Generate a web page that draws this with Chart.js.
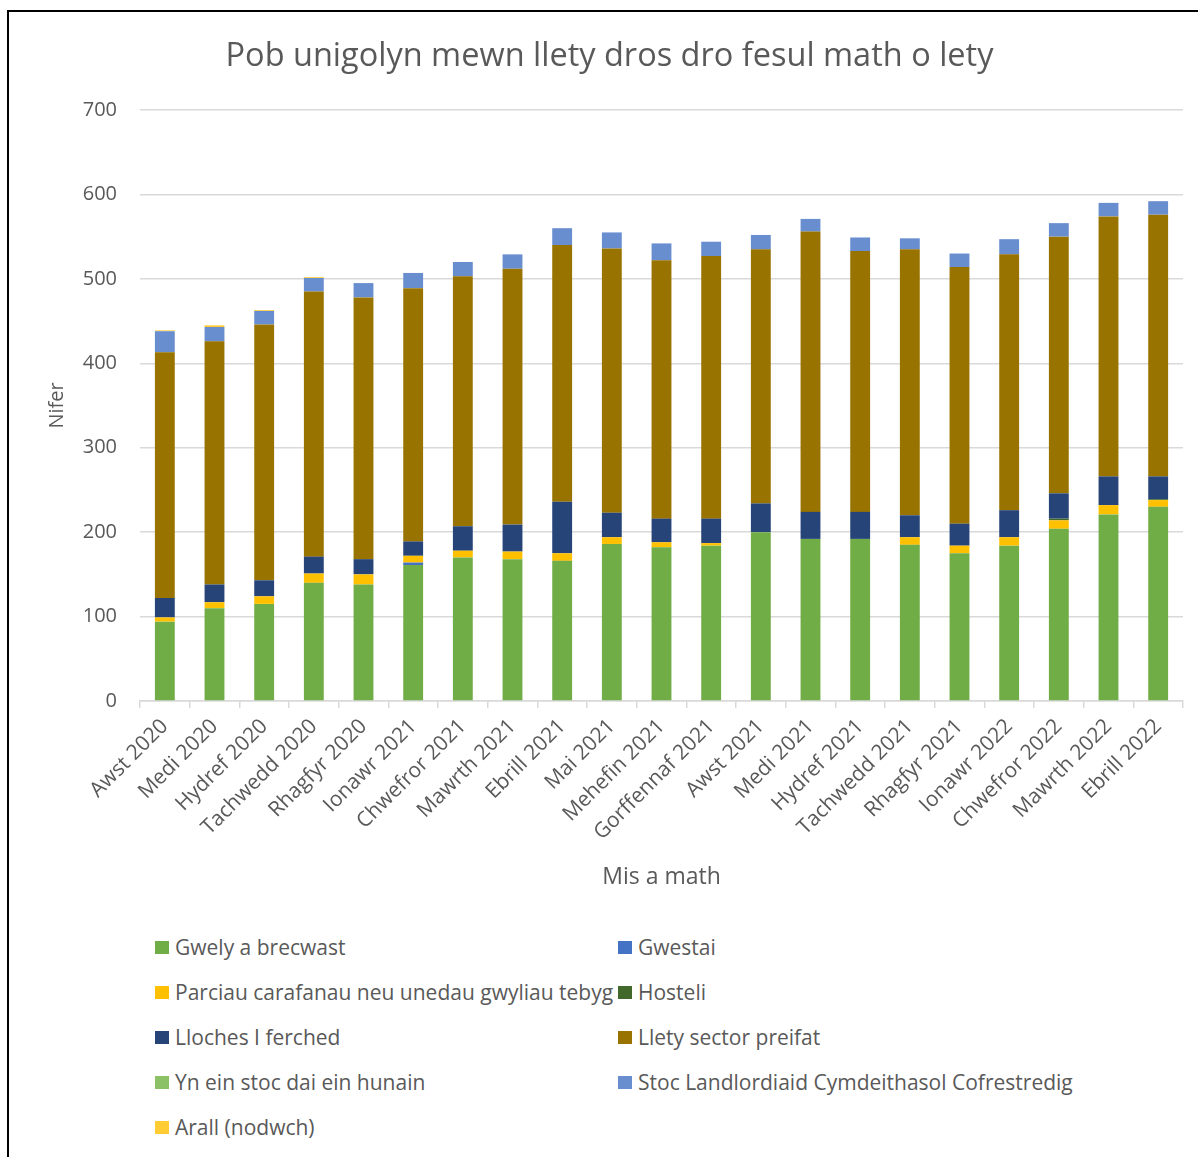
<!DOCTYPE html>
<html lang="cy">
<head>
    <meta charset="UTF-8">
    <title>Pob unigolyn mewn llety dros dro fesul math o lety</title>
    <style>
        html, body { margin: 0; padding: 0; background: #fff; overflow: hidden; }
        body { width: 1198px; height: 1157px; position: relative; font-family: "Open Sans", sans-serif; }
        .frame { position: absolute; left: 7px; top: 10px; right: -10px; bottom: -10px; border-left: 2px solid #000; border-top: 2px solid #000; }
        .chart-box { position: absolute; left: 0; top: 0; width: 1198px; height: 905px; }
        #legend { position: absolute; left: 0; top: 0; width: 1198px; }
        .legend-item { position: absolute; display: flex; align-items: center; font-size: 21px; color: #595959; white-space: nowrap; }
        .legend-item span.swatch { display: inline-block; width: 14px; height: 13px; margin-right: 6px; }
    </style>
</head>
<body>
    <div class="frame"></div>
    <div class="chart-box"><canvas id="chart"></canvas></div>
    <div id="legend"></div>

    <script src="https://cdn.jsdelivr.net/npm/chart.js"></script>
    <script>
        // Categories (months)
        const months = ['Awst 2020', 'Medi 2020', 'Hydref 2020', 'Tachwedd 2020', 'Rhagfyr 2020', 'Ionawr 2021',
            'Chwefror 2021', 'Mawrth 2021', 'Ebrill 2021', 'Mai 2021', 'Mehefin 2021', 'Gorffennaf 2021',
            'Awst 2021', 'Medi 2021', 'Hydref 2021', 'Tachwedd 2021', 'Rhagfyr 2021', 'Ionawr 2022',
            'Chwefror 2022', 'Mawrth 2022', 'Ebrill 2022'];

        // Series values
        const gwelyBrecwast = [94, 110, 115, 140, 138, 161, 170, 168, 166, 186, 182, 184, 200, 192, 192, 185, 175, 184, 204, 221, 230];
        const gwestai       = [0, 0, 0, 0, 0, 3, 0, 0, 0, 0, 0, 0, 0, 0, 0, 0, 0, 0, 0, 0, 0];
        const parciau       = [5, 7, 9, 11, 12, 8, 8, 9, 9, 8, 6, 3, 0, 0, 0, 9, 9, 10, 10, 11, 8];
        const hosteli       = [0, 0, 0, 0, 0, 0, 0, 0, 0, 0, 0, 0, 0, 0, 0, 0, 0, 0, 2, 0, 1];
        const llochesFerched = [23, 21, 19, 20, 18, 17, 29, 32, 61, 29, 28, 29, 34, 32, 32, 26, 26, 32, 30, 34, 27];
        const lletyPreifat  = [291, 288, 303, 314, 310, 300, 296, 303, 304, 313, 306, 311, 301, 332, 309, 315, 304, 303, 304, 308, 310];
        const stocDaiHunain = [0, 0, 0, 0, 0, 0, 0, 0, 0, 0, 0, 0, 0, 0, 0, 0, 0, 0, 0, 0, 0];
        const stocRSL       = [25, 17, 16, 16, 17, 18, 17, 17, 20, 19, 20, 17, 17, 15, 16, 13, 16, 18, 16, 16, 16];
        const arall         = [1, 2, 1, 1, 0, 0, 0, 0, 0, 0, 0, 0, 0, 0, 0, 0, 0, 0, 0, 0, 0];

        const yTicks = [0, 100, 200, 300, 400, 500, 600, 700];

        const seriesNames = ['Gwely a brecwast', 'Gwestai', 'Parciau carafanau neu unedau gwyliau tebyg', 'Hosteli',
            'Lloches I ferched', 'Llety sector preifat', 'Yn ein stoc dai ein hunain',
            'Stoc Landlordiaid Cymdeithasol Cofrestredig', 'Arall (nodwch)'];
        const seriesValues = [gwelyBrecwast, gwestai, parciau, hosteli, llochesFerched, lletyPreifat, stocDaiHunain, stocRSL, arall];
        const seriesColors = ['#70AD47', '#4472C4', '#FFC000', '#43682B', '#264478', '#997300', '#8CC168', '#698ED0', '#FFCD33'];

        const textColor = '#595959';
        const gridColor = '#d9d9d9';
        const font = 'Open Sans';

        const datasets = seriesNames.map((name, i) => ({
            label: name,
            data: seriesValues[i],
            backgroundColor: seriesColors[i],
            borderWidth: 0,
            categoryPercentage: 0.8,
            barPercentage: 0.5
        }));

        const ctx = document.getElementById('chart').getContext('2d');
        const chart = new Chart(ctx, {
            type: 'bar',
            data: { labels: months, datasets: datasets },
            options: {
                responsive: true,
                maintainAspectRatio: false,
                animation: false,
                layout: { padding: { left: 36, right: 15, top: 0, bottom: 5 } },
                plugins: {
                    legend: { display: false },
                    tooltip: { enabled: false },
                    title: {
                        display: true,
                        text: 'Pob unigolyn mewn llety dros dro fesul math o lety',
                        color: textColor,
                        font: { family: font, size: 32.5, weight: 'normal' },
                        padding: { top: 37, bottom: 34 }
                    }
                },
                scales: {
                    x: {
                        stacked: true,
                        afterFit: scale => { scale.height = 199; },
                        grid: { drawOnChartArea: false, drawTicks: true, tickLength: 7, color: gridColor, lineWidth: 1.5 },
                        border: { color: gridColor, width: 1.5 },
                        ticks: { color: textColor, font: { family: font, size: 21 }, minRotation: 45, maxRotation: 45, autoSkip: false, padding: 6 },
                        title: { display: true, text: 'Mis a math', color: textColor, font: { family: font, size: 23 }, padding: { top: 0, bottom: 9 } }
                    },
                    y: {
                        stacked: true,
                        min: 0,
                        max: 700,
                        afterFit: scale => { scale.width = 104; },
                        afterBuildTicks: scale => { scale.ticks = yTicks.map(v => ({ value: v })); },
                        grid: { drawTicks: false, color: gridColor, lineWidth: 1.5 },
                        border: { display: false },
                        ticks: { color: textColor, font: { family: font, size: 20 }, padding: 23 },
                        title: { display: true, text: 'Nifer', color: textColor, font: { family: font, size: 20 }, padding: { top: 9, bottom: 0 } }
                    }
                }
            }
        });

        // Two-column legend built from the chart's datasets
        const legendEl = document.getElementById('legend');
        const rowY = [947, 992, 1037, 1082, 1127];
        const colX = [155, 618];
        chart.data.datasets.forEach((ds, i) => {
            const item = document.createElement('div');
            item.className = 'legend-item';
            item.style.left = colX[i % 2] + 'px';
            item.style.top = (rowY[Math.floor(i / 2)] - 14) + 'px';
            item.style.height = '28px';
            item.innerHTML = '<span class="swatch" style="background:' + ds.backgroundColor + '"></span>' + ds.label;
            legendEl.appendChild(item);
        });
    </script>
</body>
</html>
